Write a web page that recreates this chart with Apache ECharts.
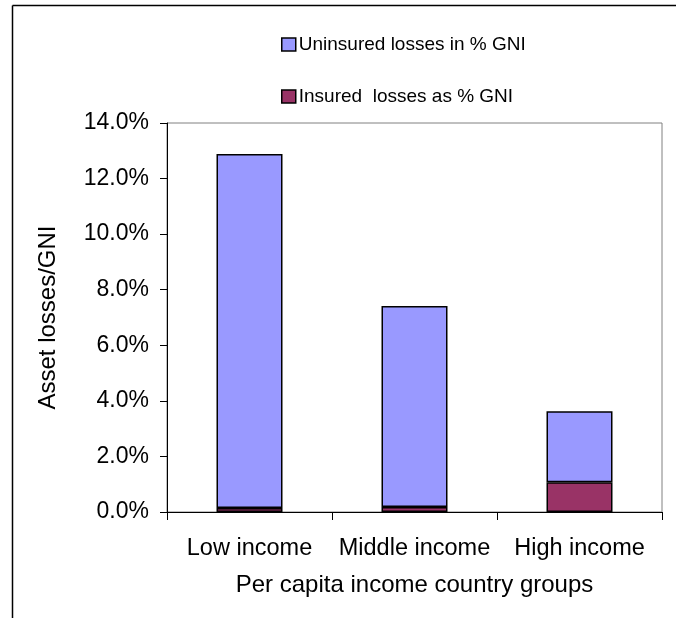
<!DOCTYPE html>
<html>
<head>
<meta charset="utf-8">
<script src="https://cdn.jsdelivr.net/npm/echarts@6/dist/echarts.min.js"></script>
<style>
  html, body { margin: 0; padding: 0; background: #fff; }
  #chart { width: 677px; height: 618px; }
</style>
</head>
<body>
<div id="chart"></div>
<script>
// Income groups on the category axis
var categories = ['Low income', 'Middle income', 'High income'];
// Asset losses as a share of GNI (fractions)
var insuredLosses = [0.0014, 0.0018, 0.0107];
var uninsuredLosses = [0.1274, 0.0723, 0.0256];
// Value axis ticks
var yMin = 0, yMax = 0.14, yStep = 0.02;

var FONT = 'Liberation Sans, Arial, sans-serif';
var chart = echarts.init(document.getElementById('chart'), null, { renderer: 'canvas' });

chart.setOption({
  animation: false,
  backgroundColor: '#ffffff',
  textStyle: { fontFamily: FONT, color: '#000' },
  graphic: [
    // outer frame (left and top edges)
    { type: 'line', shape: { x1: 12.5, y1: 5.5, x2: 676, y2: 5.5 }, style: { stroke: '#000', lineWidth: 1.5 } },
    { type: 'line', shape: { x1: 12.5, y1: 5.5, x2: 12.5, y2: 618 }, style: { stroke: '#000', lineWidth: 1.5 } }
  ],
  legend: {
    orient: 'vertical',
    left: 276,
    top: 30,
    itemGap: 33,
    itemWidth: 14,
    itemHeight: 13,
    icon: 'rect',
    data: ['Uninsured losses in % GNI', 'Insured  losses as % GNI'],
    textStyle: { fontFamily: FONT, fontSize: 19, color: '#000', padding: [0, 0, 0, -2] },
    itemStyle: { borderColor: '#000', borderWidth: 1.5 }
  },
  grid: {
    left: 167, right: 15, top: 123, bottom: 106,
    show: true, borderColor: '#808080', borderWidth: 1
  },
  xAxis: {
    type: 'category',
    data: categories,
    boundaryGap: true,
    axisLine: { lineStyle: { color: '#000', width: 1 } },
    axisTick: { show: true, alignWithLabel: false, length: 8, lineStyle: { color: '#000' } },
    axisLabel: {
      fontSize: 23.5, color: '#000', margin: 25, fontFamily: FONT,
      interval: 0, hideOverlap: false
    },
    name: 'Per capita income country groups',
    nameLocation: 'middle',
    nameGap: 61,
    nameTextStyle: { fontSize: 24, color: '#000', fontFamily: FONT }
  },
  yAxis: {
    type: 'value',
    min: yMin, max: yMax, interval: yStep,
    axisLine: { show: true, lineStyle: { color: '#000', width: 1 } },
    axisTick: { show: true, length: 7, lineStyle: { color: '#000' } },
    splitLine: { show: false },
    axisLabel: {
      fontSize: 23, color: '#000', margin: 18, fontFamily: FONT,
      formatter: function (v) { return (v * 100).toFixed(1) + '%'; }
    },
    name: 'Asset losses/GNI',
    nameLocation: 'middle',
    nameRotate: 90,
    nameGap: 107,
    nameTextStyle: { fontSize: 24, color: '#000', fontFamily: FONT }
  },
  series: [
    {
      name: 'Insured  losses as % GNI',
      type: 'bar',
      stack: 'losses',
      barWidth: '40%',
      data: insuredLosses,
      itemStyle: { color: '#993366', borderColor: '#000', borderWidth: 1.5 }
    },
    {
      name: 'Uninsured losses in % GNI',
      type: 'bar',
      stack: 'losses',
      barWidth: '40%',
      data: uninsuredLosses,
      itemStyle: { color: '#9999ff', borderColor: '#000', borderWidth: 1.5 }
    }
  ]
});
</script>
</body>
</html>
